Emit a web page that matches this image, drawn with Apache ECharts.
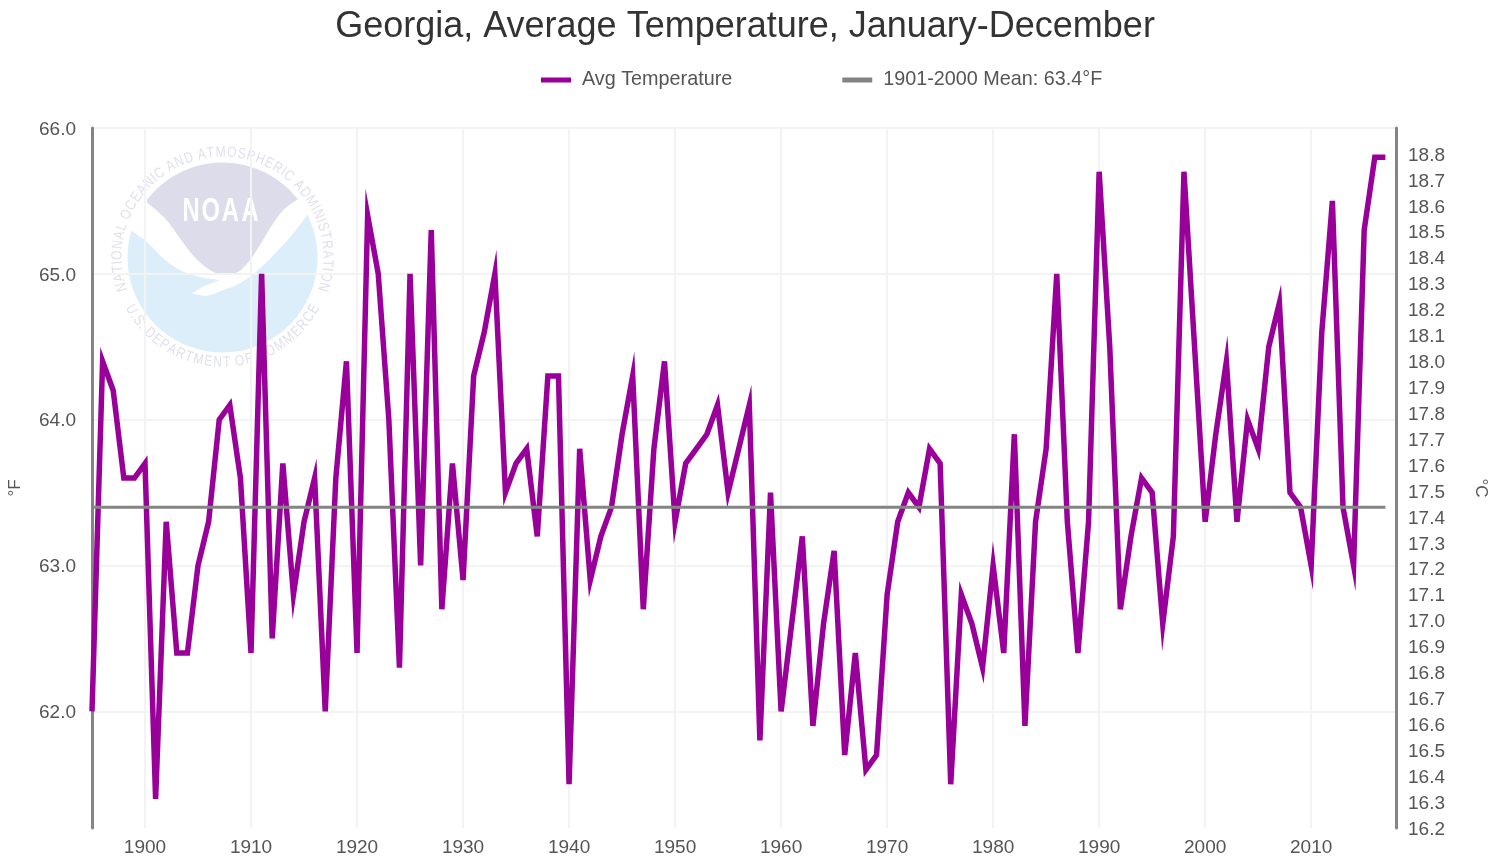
<!DOCTYPE html>
<html>
<head>
<meta charset="utf-8">
<script src="https://cdn.jsdelivr.net/npm/echarts@6/dist/echarts.min.js"></script>
<style>
html,body{margin:0;padding:0;background:#fff;}
#c{width:1493px;height:861px;filter:blur(0.55px);}
</style>
</head>
<body>
<div id="c"></div>
<script>
var titleText = 'Georgia, Average Temperature, January-December';
var tempName = 'Avg Temperature';
var meanName = '1901-2000 Mean: 63.4\u00B0F';
var meanValue = 63.4;
var firstYear = 1895;
var temps = [
62.0,64.4,64.2,63.6,63.6,63.7,61.4,63.3,62.4,62.4,
63.0,63.3,64.0,64.1,63.6,62.4,65.0,62.5,63.7,62.8,
63.3,63.6,62.0,63.6,64.4,62.4,65.4,65.0,64.0,62.3,
65.0,63.0,65.3,62.7,63.7,62.9,64.3,64.6,65.0,63.5,
63.7,63.8,63.2,64.3,64.3,61.5,63.8,62.9,63.2,63.4,
63.9,64.3,62.7,63.8,64.4,63.3,63.7,63.8,63.9,64.1,
63.5,63.8,64.1,61.8,63.5,62.0,62.6,63.2,61.9,62.6,
63.1,61.7,62.4,61.6,61.7,62.8,63.3,63.5,63.4,63.8,
63.7,61.5,62.8,62.6,62.3,63.0,62.4,63.9,61.9,63.3,
63.8,65.0,63.3,62.4,63.3,65.7,64.5,62.7,63.2,63.6,
63.5,62.6,63.2,65.7,64.5,63.3,63.9,64.4,63.3,64.0,
63.8,64.5,64.8,63.5,63.4,63.0,64.6,65.5,63.4,63.0,
65.3,65.8,65.8
];
var xTicks = [1900,1910,1920,1930,1940,1950,1960,1970,1980,1990,2000,2010];
var fTicks = [62,63,64,65,66];

var tempPairs = temps.map(function(v,i){return [firstYear+i,v];});
var meanPairs = temps.map(function(v,i){return [firstYear+i,meanValue];});

var font = '"Liberation Sans", Arial, sans-serif';
var labelColor = '#555';
var axisGrey = '#848484';
var purple = '#990099';

/* ---- faded NOAA emblem (decoration) ---- */
var cx = 222.5, cy = 257.5, R = 95;
function P(p){ return [90+p[0]/3, 125+p[1]/3]; }
function arc(a0,a1,n){
  var out=[];
  for(var i=0;i<=n;i++){
    var a=(a0+(a1-a0)*i/n)*Math.PI/180;
    out.push([cx+R*Math.sin(a), cy-R*Math.cos(a)]);
  }
  return out;
}
function spline(zoomPts){
  var pts = zoomPts.map(P), out=[];
  for(var i=0;i<pts.length-1;i++){
    var p0=pts[Math.max(i-1,0)],p1=pts[i],p2=pts[i+1],p3=pts[Math.min(i+2,pts.length-1)];
    for(var k=0;k<8;k++){
      var t=k/8,t2=t*t,t3=t2*t;
      out.push([0,1].map(function(d){
        return 0.5*(2*p1[d]+(p2[d]-p0[d])*t+(2*p0[d]-5*p1[d]+4*p2[d]-p3[d])*t2+(3*p1[d]-p0[d]-3*p2[d]+p3[d])*t3);
      }));
    }
  }
  out.push(pts[pts.length-1]);
  return out;
}
var purplePts = arc(-52,51,24).concat(
  spline([[625,222],[580,255],[540,310],[510,360],[480,405],[445,440],[400,450],[355,432],[310,392],[270,340],[225,280],[170,232]])
);
var bluePts = arc(286,63,44)
  .concat(spline([[655,265],[610,325],[560,380],[510,430],[450,475],[400,495],[350,512],[305,505]]))
  .concat(spline([[305,505],[345,482],[390,465]]))
  .concat(spline([[390,465],[340,458],[280,440],[225,405],[170,350],[120,315]]));
var logo = [
  {type:'polygon',z:-5,silent:true,shape:{points:bluePts},style:{fill:'#dbeefa'}},
  {type:'polygon',z:-5,silent:true,shape:{points:purplePts},style:{fill:'#dcdceb'}}
];
var ringFont = '15px "Liberation Sans"';
var mctx = document.createElement('canvas').getContext('2d');
mctx.font = ringFont;
function ringText(str,startDeg,endDeg,rad,bottom){
  var widths = str.split('').map(function(ch){return mctx.measureText(ch).width;});
  var total = widths.reduce(function(a,b){return a+b;},0);
  var acc = 0;
  str.split('').forEach(function(ch,i){
    var mid = (acc+widths[i]/2)/total; acc += widths[i];
    var deg = startDeg+(endDeg-startDeg)*mid;
    var a = deg*Math.PI/180;
    var x = cx+rad*Math.sin(a), y = cy-rad*Math.cos(a);
    logo.push({type:'text',z:-4,silent:true,x:x,y:y,scaleX:0.8,
      rotation: bottom ? -(a-Math.PI) : -a,
      style:{text:ch,fill:'#dfdfee',font:ringFont,align:'center',verticalAlign:'middle'}});
  });
}
ringText('NATIONAL OCEANIC AND ATMOSPHERIC ADMINISTRATION',-109,109,105,false);
ringText('U.S. DEPARTMENT OF COMMERCE',243,117,105,true);
'NOAA'.split('').forEach(function(ch,i){
  logo.push({type:'text',z:-3,silent:true,x:191+i*19.7,y:212,scaleX:0.72,
    style:{text:ch,fill:'#ffffff',font:'bold 33px "Liberation Sans"',align:'center',verticalAlign:'middle'}});
});

var chart = echarts.init(document.getElementById('c'),null,{renderer:'canvas'});
chart.setOption({
  animation:false,
  backgroundColor:'#fff',
  title:{text:titleText,left:740,textAlign:'center',top:4,
    textStyle:{fontFamily:font,fontSize:36,fontWeight:'normal',color:'#333'}},
  legend:{left:541,top:70,padding:0,itemWidth:30,itemHeight:5,itemGap:110,icon:'rect',
    data:[tempName,meanName],
    textStyle:{fontFamily:font,fontSize:19.8,color:'#555',padding:[0,0,0,6]}},
  grid:{left:92,right:97,top:128,bottom:33,containLabel:false,outerBoundsMode:'none'},
  graphic:{elements:logo},
  xAxis:{type:'value',min:1895,max:2018,
    axisLine:{show:false},
    axisTick:{show:false,customValues:xTicks},
    axisLabel:{customValues:xTicks,margin:10,fontFamily:font,fontSize:19,color:labelColor,
      formatter:function(v){return String(v);}},
    splitLine:{show:true,lineStyle:{color:'#f3f3f3',width:2}}
  },
  yAxis:[
    {type:'value',min:61.2,max:66,position:'left',
      name:'\u00B0F',nameLocation:'middle',nameGap:68,nameRotate:90,
      nameTextStyle:{fontFamily:font,fontSize:17,color:labelColor,padding:[0,20,0,0]},
      axisLine:{show:true,lineStyle:{color:axisGrey,width:3}},
      axisTick:{show:false,customValues:fTicks},
      axisLabel:{customValues:fTicks,margin:16,verticalAlign:'top',padding:[-8,0,0,0],fontFamily:font,fontSize:19,color:labelColor,
        formatter:function(v){return v.toFixed(1);}},
      splitLine:{show:true,lineStyle:{color:'#f3f3f3',width:2}}
    },
    {type:'value',min:16.2,max:18.9,interval:0.1,position:'right',
      name:'\u00B0C',nameLocation:'middle',nameGap:76,nameRotate:270,
      nameTextStyle:{fontFamily:font,fontSize:17,color:labelColor,padding:[0,0,0,20]},
      axisLine:{show:true,onZero:false,lineStyle:{color:axisGrey,width:3}},
      axisTick:{show:false},
      axisLabel:{margin:12,verticalAlign:'top',padding:[-8,0,0,0],showMaxLabel:false,fontFamily:font,fontSize:19,color:labelColor,
        formatter:function(v){return v.toFixed(1);}},
      splitLine:{show:false}
    }
  ],
  series:[
    {name:tempName,type:'line',data:tempPairs,yAxisIndex:0,symbol:'none',smooth:false,z:3,
      itemStyle:{color:purple},
      lineStyle:{color:purple,width:5.5,join:'miter',miterLimit:10,cap:'butt'}},
    {name:meanName,type:'line',data:meanPairs,yAxisIndex:0,symbol:'none',z:4,
      itemStyle:{color:axisGrey},
      lineStyle:{color:axisGrey,width:3}}
  ]
});
</script>
</body>
</html>
